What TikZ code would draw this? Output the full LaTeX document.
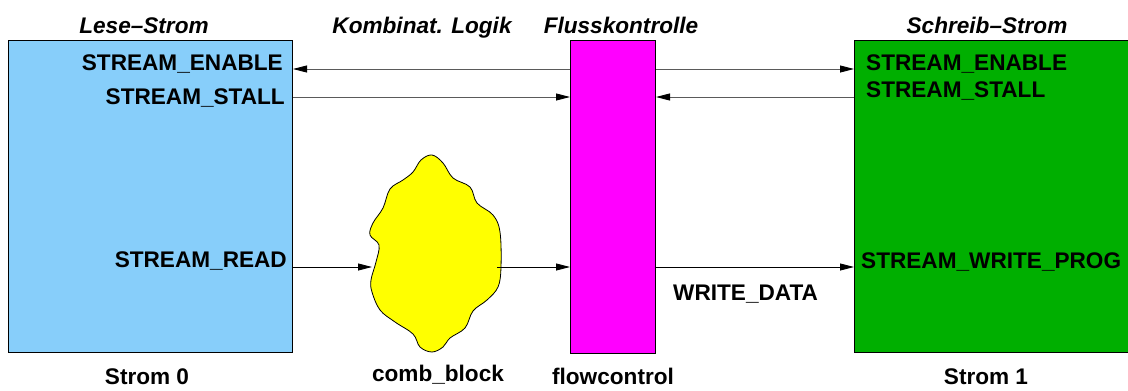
\documentclass[tikz,border=0pt]{standalone}
\usepackage{fontspec}
\setmainfont{Liberation Sans}
\usetikzlibrary{arrows.meta}
\definecolor{leseblue}{HTML}{87CEFA}
\definecolor{flussmag}{HTML}{FF00FF}
\definecolor{schreibgreen}{HTML}{00AF00}
\definecolor{combyellow}{HTML}{FFFF00}
\definecolor{linegray}{HTML}{5A5A5A}
\tikzset{
  lbl/.style={inner sep=0pt, font=\fontsize{22.6}{27}\selectfont\bfseries},
  ttl/.style={inner sep=0pt, anchor=base, font=\fontsize{22.6}{27}\selectfont\bfseries\itshape},
  blockbox/.style={draw=black, line width=1pt, inner sep=0pt, anchor=north west},
  arr/.style={line width=0.9pt, -{Triangle[length=14pt,width=7pt,color=black]}},
  grayarr/.style={arr, draw=linegray},
}
\begin{document}
\begin{tikzpicture}[x=1pt,y=-1pt]
\useasboundingbox (0,0) rectangle (1128,391);
% blocks
\node[blockbox, fill=leseblue, minimum width=284pt, minimum height=312pt] (lese) at (8,40) {};
\node[blockbox, fill=flussmag, minimum width=85pt, minimum height=313pt] (fluss) at (570,40) {};
\node[blockbox, fill=schreibgreen, minimum width=300pt, minimum height=312pt] (schreib) at (854,40) {};
% blob
\draw[fill=combyellow, line width=0.8pt] plot[smooth cycle, tension=0.6] coordinates {
 (432,155) (443,163) (453,178) (470,187) (477,203) (493,215) (500,232) (501,267)
 (498,287) (487,300) (473,311) (465,328) (450,338) (443,347) (432,352) (420,347)
 (413,334) (395,322) (380,310) (372,292) (371,280) (376,262) (379,245) (370,235)
 (373,223) (383,208) (390,189) (403,180) (413,172) (421,160)};
\coordinate (blobin) at (372,267);
\coordinate (blobout) at (497,267);
% titles
\node[ttl] (t1) at (144,33) {Lese–Strom};
\node[ttl] (t2) at (422,33) {Kombinat. Logik};
\node[ttl] (t3) at (621,33) {Flusskontrolle};
\node[ttl] (t4) at (987,33) {Schreib–Strom};
% bottom labels
\node[lbl, anchor=base] (b1) at (147,384) {Strom 0};
\node[lbl, anchor=base] (b2) at (438,381) {comb\_block};
\node[lbl, anchor=base] (b3) at (613,384) {flowcontrol};
\node[lbl, anchor=base] (b4) at (986,384) {Strom 1};
% inner labels left
\node[lbl, anchor=base east] (le) at (283,70) {STREAM\_ENABLE};
\node[lbl, anchor=base east] (ls) at (285,104) {STREAM\_STALL};
\node[lbl, anchor=base east] (lr) at (287,267) {STREAM\_READ};
% inner labels right
\node[lbl, anchor=base west] (re) at (866,70) {STREAM\_ENABLE};
\node[lbl, anchor=base west] (rs) at (866,97) {STREAM\_STALL};
\node[lbl, anchor=base west] (rw) at (861,268) {STREAM\_WRITE\_PROG};
\node[lbl, anchor=base west] (wd) at (673,300) {WRITE\_DATA};
% connectors
\draw[grayarr] (fluss.west |- 0,69) -- (lese.east |- 0,69);
\draw[grayarr] (fluss.east |- 0,69) -- (schreib.west |- 0,69);
\draw[grayarr] (lese.east |- 0,97) -- (fluss.west |- 0,97);
\draw[grayarr] (schreib.west |- 0,97) -- (fluss.east |- 0,97);
\draw[arr] (lese.east |- blobin) -- (blobin);
\draw[arr] (blobout) -- (fluss.west |- blobout);
\draw[arr] (fluss.east |- blobout) -- (schreib.west |- blobout);
\end{tikzpicture}
\end{document}
